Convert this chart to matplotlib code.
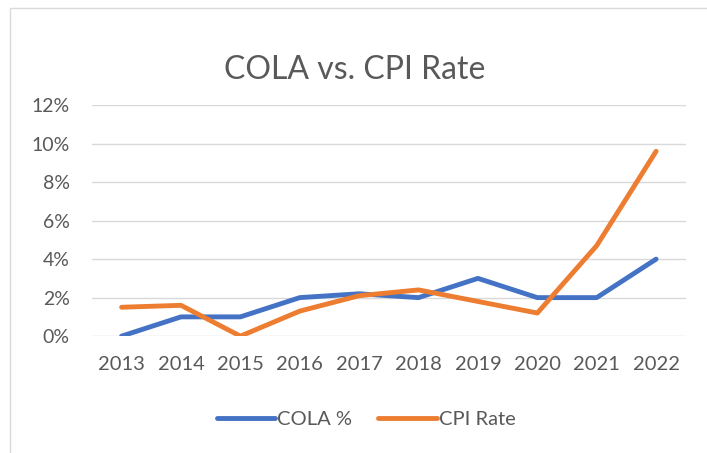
import matplotlib.pyplot as plt
from matplotlib.patches import Rectangle
from matplotlib.ticker import FuncFormatter

years = ['2013', '2014', '2015', '2016', '2017', '2018', '2019', '2020', '2021', '2022']
cola = [0.0, 1.0, 1.0, 2.0, 2.2, 2.0, 3.0, 2.0, 2.0, 4.0]
cpi = [1.5, 1.6, 0.0, 1.3, 2.1, 2.4, 1.8, 1.2, 4.7, 9.6]

plt.rcParams['font.family'] = ['Lato', 'DejaVu Sans']
gray = '#595959'

fig = plt.figure(figsize=(7.07, 4.53), dpi=100)
ax = fig.add_axes([0.130, 0.258, 0.840, 0.510])

# outer chart border (cropped on right/bottom)
fig.patches.append(Rectangle((10 / 707, -0.1), 1.2, 1 - 8 / 453 + 0.1,
                             transform=fig.transFigure, fill=False,
                             edgecolor='#d9d9d9', linewidth=1))

x = range(len(years))
ax.plot(x, cola, color='#4472C4', linewidth=3.5, label='COLA %', solid_capstyle='round')
ax.plot(x, cpi, color='#ED7D31', linewidth=3.5, label='CPI Rate', solid_capstyle='round')

ax.set_xlim(-0.5, len(years) - 0.5)
ax.set_ylim(0, 12)
ax.set_yticks(range(0, 13, 2))
ax.yaxis.set_major_formatter(FuncFormatter(lambda v, p: '%d%%' % v))
ax.set_xticks(list(x))
ax.set_xticklabels(years)
ax.grid(axis='y', color='#d9d9d9', linewidth=1)
ax.set_axisbelow(True)
for s in ax.spines.values():
    s.set_visible(False)
ax.tick_params(length=0, colors=gray)
ax.tick_params(axis='y', labelsize=14, pad=16)
ax.tick_params(axis='x', labelsize=14.5, pad=14)

fig.text(0.502, 0.845, 'COLA vs. CPI Rate', ha='center', va='center',
         fontsize=23, color=gray)

leg = fig.legend(loc='center', bbox_to_anchor=(0.518, 0.073), ncol=2, frameon=False,
                 fontsize=14.5, handlelength=2.9, handletextpad=0.1, columnspacing=1.3)
for t in leg.get_texts():
    t.set_color(gray)

plt.savefig('out.png', dpi=100)
